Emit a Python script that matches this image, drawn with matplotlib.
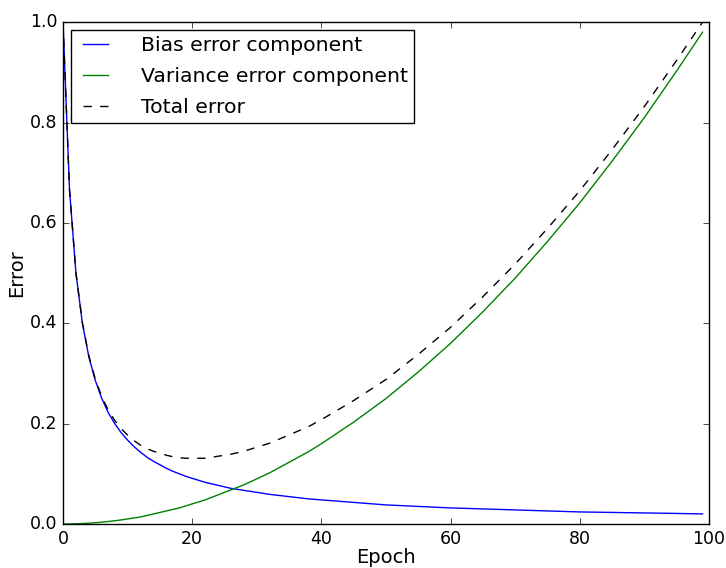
import numpy as np
import matplotlib.pyplot as plt

plt.style.use('classic')

# Values
epochs = [0, 1, 2, 3, 4, 5, 6, 7, 8, 9, 10, 11, 12, 13, 14, 15, 16, 17, 18,
          19, 20, 22, 24, 26, 28, 30, 32, 34, 36, 38, 40, 45, 50, 55, 60, 65,
          70, 75, 80, 85, 90, 95, 99]
bias = [1.000, 0.667, 0.500, 0.400, 0.333, 0.286, 0.250, 0.222, 0.200, 0.182,
        0.167, 0.154, 0.143, 0.133, 0.125, 0.118, 0.111, 0.105, 0.100, 0.095,
        0.091, 0.083, 0.077, 0.071, 0.067, 0.063, 0.059, 0.056, 0.053, 0.050,
        0.048, 0.043, 0.038, 0.035, 0.032, 0.030, 0.028, 0.026, 0.024, 0.023,
        0.022, 0.021, 0.020]
variance = [0.000, 0.0001, 0.0004, 0.0009, 0.0016, 0.0025, 0.0036, 0.0049,
            0.0064, 0.0081, 0.010, 0.012, 0.014, 0.017, 0.020, 0.023, 0.026,
            0.029, 0.032, 0.036, 0.040, 0.048, 0.058, 0.068, 0.078, 0.090,
            0.102, 0.116, 0.130, 0.144, 0.160, 0.203, 0.250, 0.303, 0.360,
            0.423, 0.490, 0.563, 0.640, 0.723, 0.810, 0.903, 0.980]
total = np.array(bias) + np.array(variance)

fig = plt.figure(figsize=(7.26, 5.68), dpi=100, facecolor='white')
ax = fig.add_axes([0.0868, 0.0775, 0.8898, 0.8835])
ax.plot(epochs, bias, 'b-', label='Bias error component')
ax.plot(epochs, variance, 'g-', label='Variance error component')
ax.plot(epochs, total, 'k--', label='Total error')

ax.set_xlim(0, 100)
ax.set_ylim(0, 1.0)
ax.set_xticks([0, 20, 40, 60, 80, 100])
ax.set_yticks([0.0, 0.2, 0.4, 0.6, 0.8, 1.0])
ax.tick_params(labelsize=12.5)
ax.set_xlabel('Epoch', fontsize=14)
ax.set_ylabel('Error', fontsize=14)
ax.yaxis.set_label_coords(-0.057, 0.5)
ax.xaxis.set_label_coords(0.5, -0.048)
ax.legend(loc='upper left', fontsize=14.7, handlelength=1.8, handletextpad=1.3,
          borderaxespad=0.4, labelspacing=0.58, borderpad=0.3)

fig.savefig('out.png', dpi=100, facecolor='white')
